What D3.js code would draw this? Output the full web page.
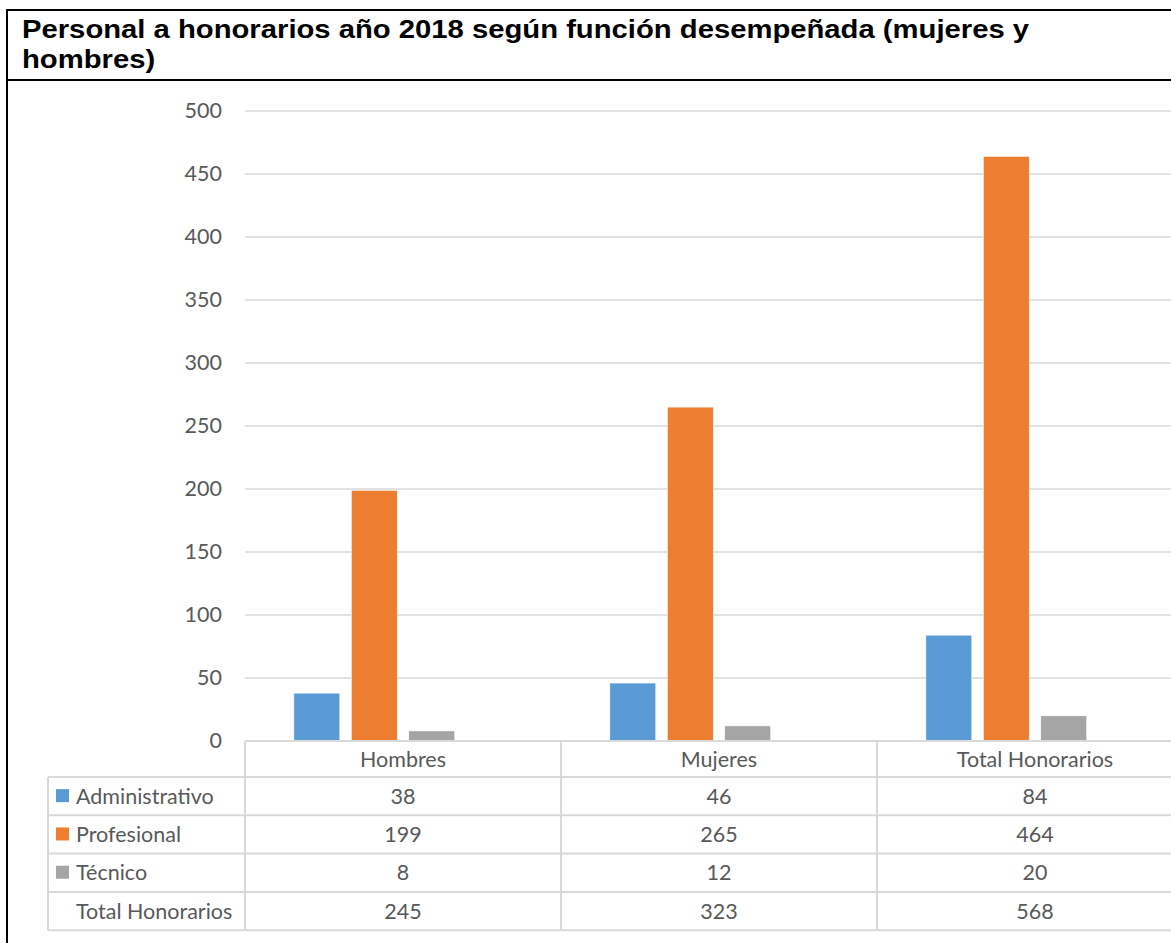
<!DOCTYPE html>
<html>
<head>
<meta charset="utf-8">
<script src="https://cdn.jsdelivr.net/npm/d3@7"></script>
<style>
  body { margin: 0; background: #fff; }
  svg text { font-family: Lato, "Open Sans", sans-serif; fill: #595959; }
  svg text.title { font-family: "Liberation Sans", Arial, sans-serif; font-weight: bold; fill: #000; }
</style>
</head>
<body>
<svg id="chart" width="1171" height="943"></svg>
<script>
var categories = ["Hombres", "Mujeres", "Total Honorarios"];
var series = ["Administrativo", "Profesional", "Técnico", "Total Honorarios"];
var administrativo = [38, 46, 84];
var profesional = [199, 265, 464];
var tecnico = [8, 12, 20];
var totalHonorarios = [245, 323, 568];
var yTicks = [0, 50, 100, 150, 200, 250, 300, 350, 400, 450, 500];
var titleLines = ["Personal a honorarios año 2018 según función desempeñada (mujeres y", "hombres)"];

var colors = {"Administrativo": "#5b9bd5", "Profesional": "#ed7d31", "Técnico": "#a5a5a5", "Total Honorarios": "none"};
var values = {"Administrativo": administrativo, "Profesional": profesional, "Técnico": tecnico, "Total Honorarios": totalHonorarios};

var svg = d3.select("#chart");
var plotLeft = 245, colWidth = 316;
var plotTop = 111, plotBottom = 741;
var rowH = 38.3;
var gridColor = "#d9d9d9";
var fontSize = 21.5;

// frame + title
svg.append("line").attr("x1", 6).attr("x2", 1171).attr("y1", 10).attr("y2", 10)
    .attr("stroke", "#000").attr("stroke-width", 2);
svg.append("line").attr("x1", 7).attr("x2", 7).attr("y1", 9).attr("y2", 943)
    .attr("stroke", "#000").attr("stroke-width", 2);
svg.append("line").attr("x1", 6).attr("x2", 1171).attr("y1", 80).attr("y2", 80)
    .attr("stroke", "#000").attr("stroke-width", 2);

// the reference text is a bit wider than Arial, so stretch it horizontally
svg.selectAll("text.title")
    .data(titleLines)
    .enter().append("text")
    .attr("class", "title")
    .attr("transform", (d, i) => "translate(22," + (38 + i * 30) + ") scale(1.17,1)")
    .attr("font-size", 25)
    .text(d => d);

var x0 = d3.scaleBand().domain(categories).range([plotLeft, plotLeft + colWidth * 3]);
var x1 = d3.scaleBand().domain(series).range([0, colWidth]).paddingInner(0.2).paddingOuter(0.85);
var y = d3.scaleLinear().domain([0, 500]).range([plotBottom, plotTop]);

// gridlines
svg.append("g").selectAll("line")
    .data(yTicks.filter(d => d > 0))
    .enter().append("line")
    .attr("x1", plotLeft).attr("x2", 1171)
    .attr("y1", d => y(d)).attr("y2", d => y(d))
    .attr("stroke", gridColor).attr("stroke-width", 1.5);

// y axis labels
var yAxis = d3.axisLeft(y).tickValues(yTicks).tickSize(0).tickPadding(23);
var yg = svg.append("g").attr("transform", "translate(" + plotLeft + ",0)").call(yAxis);
yg.select(".domain").remove();
yg.selectAll("text").attr("font-size", fontSize).attr("fill", "#595959")
    .style("font-family", "Lato, 'Open Sans', sans-serif");

// bars
var groups = svg.append("g").selectAll("g")
    .data(categories)
    .enter().append("g")
    .attr("transform", d => "translate(" + x0(d) + ",0)");

groups.selectAll("rect")
    .data((c, ci) => series.map(s => ({series: s, value: values[s][ci]})))
    .enter().append("rect")
    .filter(d => colors[d.series] !== "none")
    .attr("x", d => x1(d.series))
    .attr("width", x1.bandwidth())
    .attr("y", d => y(d.value))
    .attr("height", d => plotBottom - y(d.value))
    .attr("fill", d => colors[d.series])
    .attr("stroke", "#fff").attr("stroke-width", 0.6);

// data table
var table = svg.append("g");
var tableLeft = 48, tableRight = 1171;
var rowsTop = plotBottom + 36;

// horizontal lines
table.append("line").attr("x1", plotLeft).attr("x2", tableRight)
    .attr("y1", plotBottom).attr("y2", plotBottom)
    .attr("stroke", gridColor).attr("stroke-width", 2);
table.selectAll("line.h")
    .data(d3.range(series.length + 1))
    .enter().append("line")
    .attr("class", "h")
    .attr("x1", tableLeft).attr("x2", tableRight)
    .attr("y1", i => rowsTop + i * rowH).attr("y2", i => rowsTop + i * rowH)
    .attr("stroke", gridColor).attr("stroke-width", 2);

// vertical lines
var vx = [plotLeft, plotLeft + colWidth, plotLeft + colWidth * 2];
table.selectAll("line.v")
    .data(vx)
    .enter().append("line")
    .attr("class", "v")
    .attr("x1", d => d).attr("x2", d => d)
    .attr("y1", plotBottom).attr("y2", rowsTop + series.length * rowH)
    .attr("stroke", gridColor).attr("stroke-width", 2);
table.append("line")
    .attr("x1", tableLeft).attr("x2", tableLeft)
    .attr("y1", rowsTop).attr("y2", rowsTop + series.length * rowH)
    .attr("stroke", gridColor).attr("stroke-width", 2);

// header
table.selectAll("text.head")
    .data(categories)
    .enter().append("text")
    .attr("class", "head")
    .attr("x", d => x0(d) + x0.bandwidth() / 2)
    .attr("y", plotBottom + 18)
    .attr("dy", "0.35em")
    .attr("text-anchor", "middle")
    .attr("font-size", fontSize)
    .text(d => d);

// rows
var rows = table.selectAll("g.row")
    .data(series)
    .enter().append("g")
    .attr("class", "row")
    .attr("transform", (d, i) => "translate(0," + (rowsTop + i * rowH + rowH / 2) + ")");

rows.filter(d => colors[d] !== "none").append("rect")
    .attr("x", 56).attr("y", -7).attr("width", 13).attr("height", 13)
    .attr("fill", d => colors[d]);

rows.append("text")
    .attr("x", 76)
    .attr("dy", "0.35em")
    .attr("font-size", fontSize)
    .text(d => d);

rows.selectAll("text.val")
    .data(s => values[s].map((v, i) => ({cat: categories[i], v: v})))
    .enter().append("text")
    .attr("class", "val")
    .attr("x", d => x0(d.cat) + x0.bandwidth() / 2)
    .attr("dy", "0.35em")
    .attr("text-anchor", "middle")
    .attr("font-size", fontSize)
    .text(d => d.v);
</script>
</body>
</html>
